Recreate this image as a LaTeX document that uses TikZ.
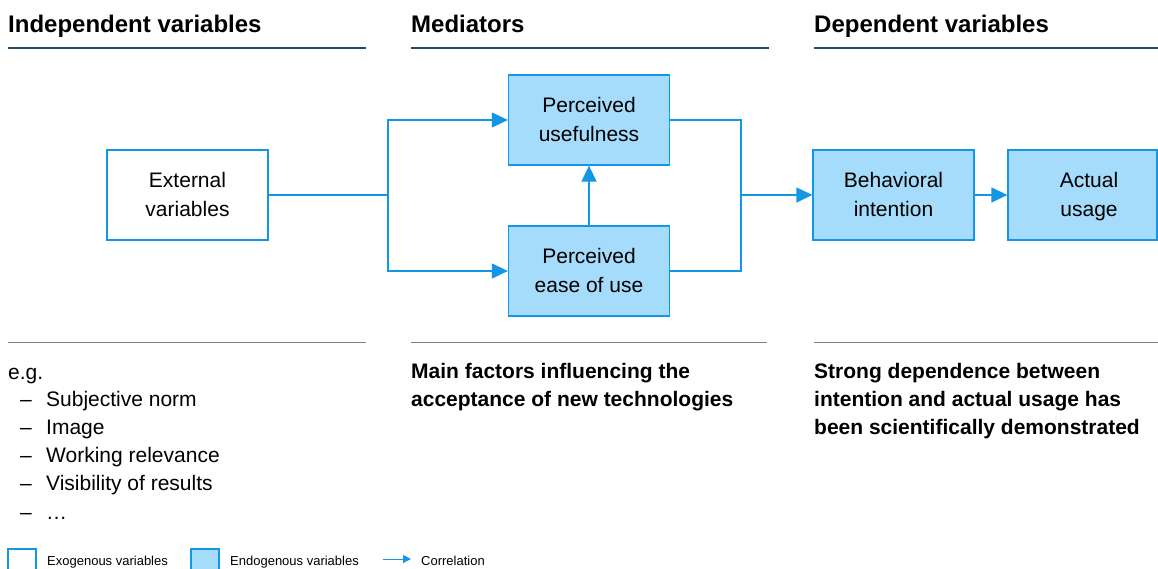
\documentclass[tikz,border=0pt]{standalone}
\usepackage{fontspec}
\setmainfont{Liberation Sans}
\usetikzlibrary{arrows.meta}
\definecolor{lineblue}{RGB}{20,150,230}
\definecolor{fillblue}{RGB}{166,220,251}
\definecolor{headrule}{RGB}{31,78,107}
\definecolor{sepgray}{RGB}{128,128,128}
\newcommand{\twolines}[2]{\rule{0pt}{18pt}#1\\#2\rule[-4pt]{0pt}{4pt}}
\begin{document}
\begin{tikzpicture}[x=1pt,y=-1pt,
  boxtext/.style={inner sep=0pt,align=center,font=\fontsize{21}{29}\selectfont},
  box/.style={boxtext,draw=lineblue,line width=1.3pt,minimum width=161pt,minimum height=90pt},
  exobox/.style={box,fill=white},
  endobox/.style={box,fill=fillblue},
  conn/.style={draw=lineblue,line width=1.3pt},
  arr/.style={conn,-{Triangle[length=16pt,width=15pt]}},
  head/.style={anchor=base west,inner sep=0pt,font=\fontsize{24}{28}\selectfont\bfseries},
  hrule/.style={draw=headrule,line width=2.6pt},
  srule/.style={draw=sepgray,line width=0.9pt},
  body/.style={anchor=base west,inner sep=0pt,font=\fontsize{21}{28}\selectfont},
  bbody/.style={anchor=base west,inner sep=0pt,font=\fontsize{21}{28}\selectfont\bfseries},
  leg/.style={anchor=base west,inner sep=0pt,font=\fontsize{13}{16}\selectfont},
  legbox/.style={draw=lineblue,line width=1.2pt,minimum width=28pt,minimum height=22pt,inner sep=0pt}
]
\useasboundingbox (0,0) rectangle (1158,568);

% headings
\node[head] (h1) at (8,32) {Independent variables};
\node[head] (h2) at (411,32) {Mediators};
\node[head] (h3) at (814,32) {Dependent variables};
\draw[hrule] (8,48) -- (366,48);
\draw[hrule] (411,48) -- (769,48);
\draw[hrule] (814,48) -- (1158,48);

% boxes
\node[exobox] (ext) at (187.5,195) {\twolines{External}{variables}};
\node[endobox] (pu) at (589,120) {\twolines{Perceived}{usefulness}};
\node[endobox] (pe) at (589,271) {\twolines{Perceived}{ease of use}};
\node[endobox] (bi) at (893.5,195) {\twolines{Behavioral}{intention}};
\node[endobox,minimum width=149pt] (au) at (1082.5,195) {};
\node[boxtext] (aut) at (1089,195) {\twolines{Actual}{usage}};

% connectors
\coordinate (split) at (388,195);
\coordinate (join) at (741,195);
\draw[conn] (ext.east) -- (split);
\draw[arr] (split) |- (pu.west);
\draw[arr] (split) |- (pe.west);
\draw[arr] (pe.north) -- (pu.south);
\draw[conn] (pu.east) -| (join);
\draw[conn] (pe.east) -| (join);
\draw[arr] (join) -- (bi.west);
\draw[arr] (bi.east) -- (au.west);

% separators
\draw[srule] (8,342) -- (366,342);
\draw[srule] (411,342) -- (767,342);
\draw[srule] (814,342) -- (1158,342);

% left list
\node[body] (eg) at (8,379) {e.g.};
\node[body] (d1) at (20,406) {–};
\node[body] (t1) at (46,406) {Subjective norm};
\node[body] (d2) at (20,434) {–};
\node[body] (t2) at (46,434) {Image};
\node[body] (d3) at (20,462) {–};
\node[body] (t3) at (46,462) {Working relevance};
\node[body] (d4) at (20,490) {–};
\node[body] (t4) at (46,490) {Visibility of results};
\node[body] (d5) at (20,519) {–};
\node[body] (t5) at (46,519) {…};

% middle and right texts
\node[bbody] (m1) at (411,378) {Main factors influencing the};
\node[bbody] (m2) at (411,406) {acceptance of new technologies};
\node[bbody] (r1) at (814,378) {Strong dependence between};
\node[bbody] (r2) at (814,406) {intention and actual usage has};
\node[bbody] (r3) at (814,434) {been scientifically demonstrated};

% legend
\node[legbox,fill=white] (lg1) at (22,560) {};
\node[leg] (lt1) at (47,565) {Exogenous variables};
\node[legbox,fill=fillblue] (lg2) at (205,560) {};
\node[leg] (lt2) at (230,565) {Endogenous variables};
\coordinate (la1) at (383,559);
\coordinate (la2) at (411,559);
\draw[conn,line width=1pt,-{Triangle[length=8pt,width=8pt]}] (la1) -- (la2);
\node[leg] (lt3) at (421,565) {Correlation};
\end{tikzpicture}
\end{document}
